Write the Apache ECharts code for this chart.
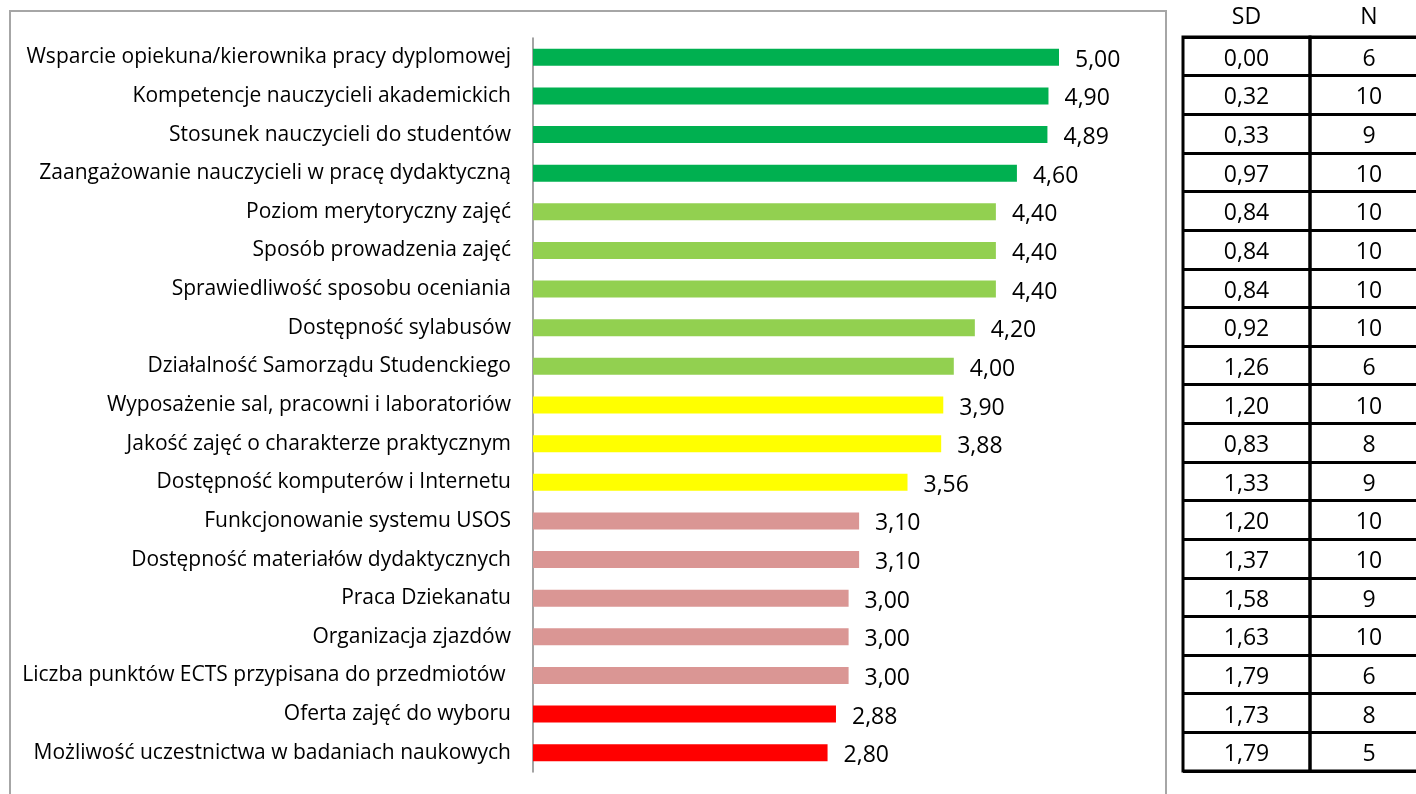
<!DOCTYPE html>
<html>
<head>
<meta charset="utf-8">
<script src="https://cdn.jsdelivr.net/npm/echarts@6/dist/echarts.min.js"></script>
<style>
html,body{margin:0;padding:0;background:#fff;}
#chart{width:1416px;height:794px;}
</style>
</head>
<body>
<div id="chart"></div>
<script>
const categories = [
  'Wsparcie opiekuna/kierownika pracy dyplomowej',
  'Kompetencje nauczycieli akademickich',
  'Stosunek nauczycieli do studentów',
  'Zaangażowanie nauczycieli w pracę dydaktyczną',
  'Poziom merytoryczny zajęć',
  'Sposób prowadzenia zajęć',
  'Sprawiedliwość sposobu oceniania',
  'Dostępność sylabusów',
  'Działalność Samorządu Studenckiego',
  'Wyposażenie sal, pracowni i laboratoriów',
  'Jakość zajęć o charakterze praktycznym',
  'Dostępność komputerów i Internetu',
  'Funkcjonowanie systemu USOS',
  'Dostępność materiałów dydaktycznych',
  'Praca Dziekanatu',
  'Organizacja zjazdów',
  'Liczba punktów ECTS przypisana do przedmiotów ',
  'Oferta zajęć do wyboru',
  'Możliwość uczestnictwa w badaniach naukowych'
];
const means = [5.00, 4.90, 4.89, 4.60, 4.40, 4.40, 4.40, 4.20, 4.00, 3.90, 3.88, 3.56, 3.10, 3.10, 3.00, 3.00, 3.00, 2.88, 2.80];
const sdValues = [0.00, 0.32, 0.33, 0.97, 0.84, 0.84, 0.84, 0.92, 1.26, 1.20, 0.83, 1.33, 1.20, 1.37, 1.58, 1.63, 1.79, 1.73, 1.79];
const nValues = [6, 10, 9, 10, 10, 10, 10, 10, 6, 10, 8, 9, 10, 10, 9, 10, 6, 8, 5];
const ratingGroup = [0, 0, 0, 0, 1, 1, 1, 1, 1, 2, 2, 2, 3, 3, 3, 3, 3, 4, 4];
const tableHeaders = ['SD', 'N'];

const palette = ['#00b050', '#92d050', '#ffff00', '#da9694', '#ff0000'];
const FONT = '"Open Sans", sans-serif';
const fmt = v => v.toFixed(2).replace('.', ',');

const chart = echarts.init(document.getElementById('chart'), null, {renderer: 'canvas'});

const TOP = 38, BOTTOM = 22;
const cellAxis = (idx) => ({
  type: 'category', gridIndex: idx, data: categories, inverse: true,
  axisLine: {show: false}, axisTick: {show: false}, axisLabel: {show: false},
  splitLine: {show: true, lineStyle: {color: '#000', width: 3}}
});
const headerAxis = (idx, name) => ({
  type: 'value', gridIndex: idx, min: 0, max: 1, position: 'top',
  name: name, nameLocation: 'middle', nameGap: 8,
  nameTextStyle: {fontFamily: FONT, fontSize: 23, color: '#000'},
  axisLine: {show: false}, axisTick: {show: false}, axisLabel: {show: false}, splitLine: {show: false}
});
const cellSeries = (idx, texts) => ({
  type: 'bar', xAxisIndex: idx, yAxisIndex: idx,
  data: categories.map(() => 1),
  barWidth: '100%',
  itemStyle: {color: 'rgba(0,0,0,0)'},
  label: {show: true, position: 'inside', offset: [0, 3], color: '#000', fontFamily: FONT, fontSize: 23,
          formatter: p => texts[p.dataIndex]},
  silent: true
});
const tableGrid = (left, width) => ({
  left: left, width: width, top: TOP - 1, bottom: BOTTOM + 1,
  outerBoundsMode: 'none', containLabel: false,
  show: true, borderColor: '#000', borderWidth: 3, backgroundColor: 'rgba(0,0,0,0)'
});

chart.setOption({
  animation: false,
  backgroundColor: '#fff',
  graphic: [{
    type: 'rect', shape: {x: 10, y: 11, width: 1156, height: 800},
    style: {fill: 'none', stroke: '#a6a6a6', lineWidth: 2}, silent: true, z: -1
  }],
  grid: [
    {left: 533, right: 1416 - 1059, top: TOP, bottom: BOTTOM, outerBoundsMode: 'none', containLabel: false},
    tableGrid(1183, 127),
    tableGrid(1310, 118)
  ],
  xAxis: [
    {type: 'value', gridIndex: 0, min: 0, max: 5, show: false},
    headerAxis(1, tableHeaders[0]),
    headerAxis(2, tableHeaders[1])
  ],
  yAxis: [
    {type: 'category', gridIndex: 0, data: categories, inverse: true,
     axisLine: {show: true, lineStyle: {color: '#868686', width: 1.5}},
     axisTick: {show: false},
     axisLabel: {margin: 22, color: '#000', fontFamily: FONT, fontSize: 21, padding: [6, 0, 0, 0]}},
    cellAxis(1), cellAxis(2)
  ],
  series: [
    {type: 'bar', xAxisIndex: 0, yAxisIndex: 0, barWidth: 17,
     data: means.map((v, i) => ({value: v, itemStyle: {color: palette[ratingGroup[i]]}})),
     label: {show: true, position: 'right', distance: 16, offset: [0, 3], color: '#000', fontFamily: FONT, fontSize: 23,
             formatter: p => fmt(p.value)}},
    cellSeries(1, sdValues.map(fmt)),
    cellSeries(2, nValues.map(String))
  ]
});
</script>
</body>
</html>
